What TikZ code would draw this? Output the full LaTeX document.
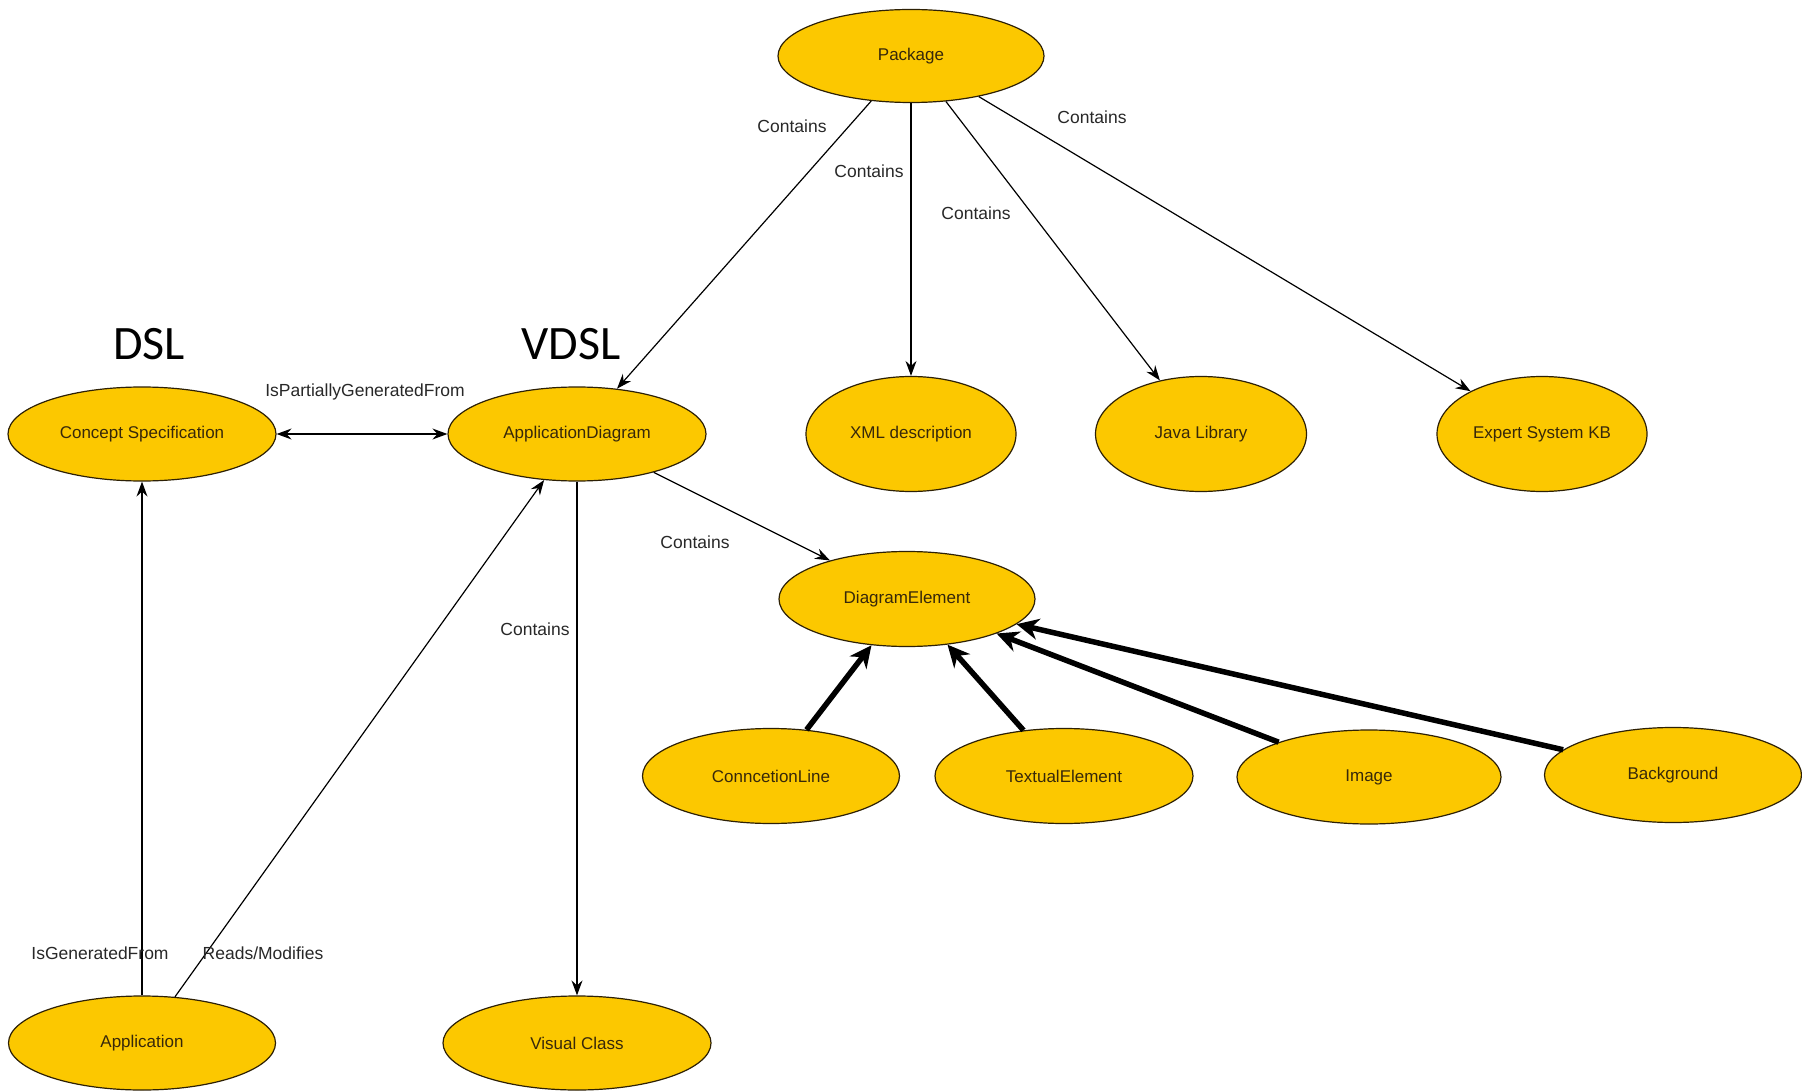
\documentclass[tikz,border=0pt]{standalone}
\usepackage{fontspec}
\setmainfont{Liberation Sans}
\newfontfamily\calib{Carlito}
\usetikzlibrary{shapes.geometric,arrows.meta}
\definecolor{nodefill}{RGB}{252,200,0}
\definecolor{nodeline}{RGB}{45,32,5}
\definecolor{nodetext}{RGB}{55,40,10}
\definecolor{labeltext}{RGB}{40,40,40}
\begin{document}
\begin{tikzpicture}[x=1pt,y=-1pt,
  ent/.style={ellipse, draw=nodeline, fill=nodefill, line width=1.2pt, inner sep=0pt,
    text=nodetext, font=\fontsize{17}{20}\selectfont},
  lbl/.style={inner sep=0pt, text=labeltext, font=\fontsize{17.5}{20}\selectfont},
  big/.style={inner sep=0pt, text=black, font=\calib\fontsize{48}{56}\selectfont},
  thin/.style={draw=black, line width=1.2pt},
  tip/.style={thin, -{Stealth[length=15pt,width=11pt,inset=5pt]}},
  both/.style={thin, {Stealth[length=15pt,width=11pt,inset=5pt]}-{Stealth[length=15pt,width=11pt,inset=5pt]}},
  heavy/.style={draw=black, line width=5.5pt, -{Stealth[length=22pt,width=21pt,inset=7pt]}}]
\useasboundingbox (0,0) rectangle (1802,1091);
\fill[white] (0,0) rectangle (1802,1091);

% nodes
\node[ent, minimum width=266pt, minimum height=93pt] (pkg) at (911,56) {Package};
\node[ent, minimum width=268pt, minimum height=94pt] (concept) at (142,434) {Concept Specification};
\node[ent, minimum width=258pt, minimum height=94pt] (appd) at (577,434) {ApplicationDiagram};
\node[ent, minimum width=210pt, minimum height=115pt] (xml) at (911,434) {XML description};
\node[ent, minimum width=211pt, minimum height=115pt] (java) at (1201,434) {Java Library};
\node[ent, minimum width=210pt, minimum height=115pt] (expert) at (1542,434) {Expert System KB};
\node[ent, minimum width=256pt, minimum height=95pt] (de) at (907,599) {DiagramElement};
\node[ent, minimum width=257pt, minimum height=95pt] (conn) at (771,776) {ConncetionLine};
\node[ent, minimum width=258pt, minimum height=95pt] (textel) at (1064,776) {TextualElement};
\node[ent, minimum width=264pt, minimum height=94pt] (image) at (1369,777) {Image};
\node[ent, minimum width=257pt, minimum height=95pt] (bg) at (1673,775) {Background};
\node[ent, minimum width=267pt, minimum height=94pt] (app) at (142,1043) {Application};
\node[ent, minimum width=268pt, minimum height=94pt] (vc) at (577,1043) {Visual Class};

% big titles
\node[big] (dsl) at (149,344) {DSL};
\node[big] (vdsl) at (571,344) {VDSL};

% connectors
\draw[tip] (pkg) -- (appd);
\draw[tip] (pkg) -- (xml);
\draw[tip] (pkg) -- (java);
\draw[tip] (pkg) -- (expert);
\draw[both] (concept) -- (appd);
\draw[tip] (appd) -- (de);
\draw[tip] (appd) -- (vc);
\draw[tip] (app) -- (concept);
\draw[tip] (app) -- (appd);
\draw[heavy] (conn) -- (de);
\draw[heavy] (textel) -- (de);
\draw[heavy] (image) -- (de);
\draw[heavy] (bg) -- (de);

% labels
\node[lbl] (c1) at (792,126) {Contains};
\node[lbl] (c2) at (869,171) {Contains};
\node[lbl] (c3) at (976,213) {Contains};
\node[lbl] (c4) at (1092,117) {Contains};
\node[lbl] (c5) at (695,542) {Contains};
\node[lbl] (c6) at (535,629) {Contains};
\node[lbl] (ipg) at (365,392) {IsPartiallyGeneratedFrom};
\node[lbl] (igf) at (100,953) {IsGeneratedFrom};
\node[lbl] (rm) at (263,953) {Reads/Modifies};
\end{tikzpicture}
\end{document}
